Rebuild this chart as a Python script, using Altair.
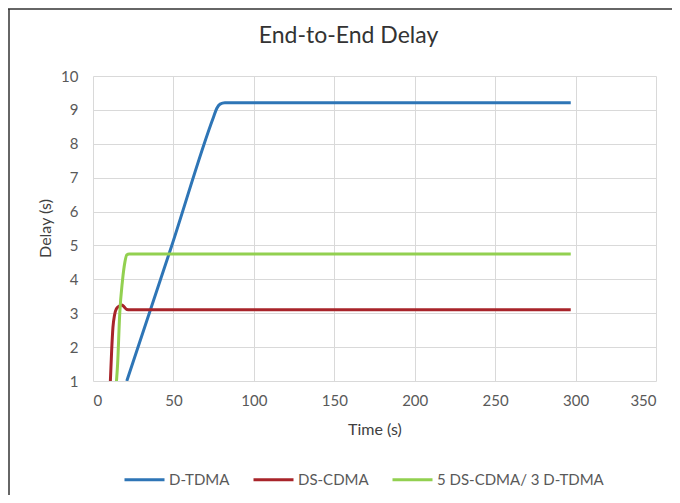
import altair as alt
import pandas as pd

series_names = ["D-TDMA", "DS-CDMA", "5 DS-CDMA/ 3 D-TDMA"]
series_colors = ["#2E75B6", "#A8242A", "#92D050"]

# D-TDMA
t_dtdma = [21.0, 49.0, 75.0, 77.0, 79.0, 82.0, 297.0]
d_dtdma = [1.0, 5.0, 8.8, 9.05, 9.17, 9.21, 9.21]

# DS-CDMA
t_dscdma = [10.8, 11.6, 12.4, 13.4, 14.5, 16.0, 18.0, 19.5, 21.0, 23.0, 297.0]
d_dscdma = [1.0, 1.9, 2.58, 2.95, 3.13, 3.2, 3.24, 3.18, 3.11, 3.1, 3.1]

# 5 DS-CDMA / 3 D-TDMA
t_mix = [14.6, 15.3, 16.6, 18.3, 19.8, 21.0, 22.5, 297.0]
d_mix = [1.0, 1.5, 2.97, 3.95, 4.5, 4.72, 4.75, 4.75]

x_ticks = [0, 50, 100, 150, 200, 250, 300, 350]
y_ticks = [1, 2, 3, 4, 5, 6, 7, 8, 9, 10]

rows = []
for name, ts, ds in zip(series_names, [t_dtdma, t_dscdma, t_mix], [d_dtdma, d_dscdma, d_mix]):
    for t, d in zip(ts, ds):
        rows.append({"series": name, "t": t, "d": d})
df = pd.DataFrame(rows)

FONT = "Lato"
GRAY = "#595959"

lines = alt.Chart(df).mark_line(strokeWidth=3, interpolate="monotone", clip=True).encode(
    x=alt.X("t:Q",
            scale=alt.Scale(domain=[0, 350], nice=False),
            axis=alt.Axis(values=x_ticks, title="Time (s)", grid=True, ticks=False, domain=False,
                          labelPadding=12, labelFontSize=15, labelColor=GRAY, labelFont=FONT,
                          titleFontSize=16, titleFont=FONT, titleColor="#404040", titleFontWeight="normal",
                          titleY=40, titleBaseline="top")),
    y=alt.Y("d:Q",
            scale=alt.Scale(domain=[1, 10], nice=False, zero=False),
            axis=alt.Axis(values=y_ticks, title="Delay (s)", grid=True, ticks=False, domain=False,
                          labelPadding=15, labelFontSize=15, labelColor=GRAY, labelFont=FONT,
                          titleFontSize=16, titleFont=FONT, titleColor="#404040", titleFontWeight="normal",
                          titleX=-48, titleY=152, titleAngle=-90, titleAlign="center", titleBaseline="middle")),
    color=alt.Color("series:N",
                    scale=alt.Scale(domain=series_names, range=series_colors),
                    legend=alt.Legend(title=None, orient="none", legendX=30, legendY=382,
                                      direction="horizontal", symbolType="stroke", symbolSize=1600,
                                      symbolStrokeWidth=3, labelFontSize=15, labelColor=GRAY,
                                      labelFont=FONT, labelOffset=3, columnPadding=17, labelLimit=400)),
)

dummy = pd.DataFrame({"a": [0]})
left_border = alt.Chart(dummy).mark_rule(color="#333333", strokeWidth=1.5).encode(
    x=alt.value(-84), y=alt.value(-67), y2=alt.value(419))
top_border = alt.Chart(dummy).mark_rule(color="#333333", strokeWidth=1.5).encode(
    y=alt.value(-67), x=alt.value(-85), x2=alt.value(579))

chart = alt.layer(lines, left_border, top_border).properties(
    width=563,
    height=305,
    padding={"left": 85, "top": 68, "right": 16, "bottom": 114},
    autosize=alt.AutoSizeParams(type="none"),
    title=alt.TitleParams(text="End-to-End Delay", fontSize=23, font=FONT, fontWeight="normal",
                          color="#333333", anchor="middle", frame="group", dx=-26,
                          baseline="alphabetic", offset=-58),
).configure_view(strokeWidth=0).configure_axis(gridColor="#D9D9D9", gridWidth=1)

chart.save("out.html", embed_options={"renderer": "svg", "actions": False})
